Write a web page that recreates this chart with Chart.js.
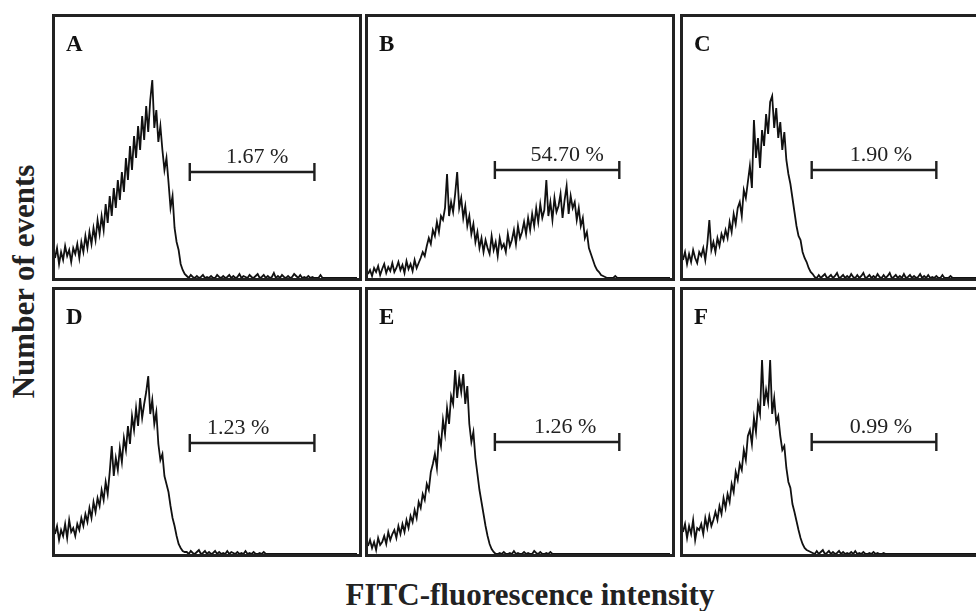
<!DOCTYPE html>
<html>
<head>
<meta charset="utf-8">
<script src="https://cdn.jsdelivr.net/npm/chart.js@4"></script>
<style>
  body { margin: 0; width: 976px; height: 611px; overflow: hidden; background: #fff; position: relative; font-family: "Liberation Serif", "Times New Roman", serif; color: #222; }
  .panel { position: absolute; box-sizing: border-box; border: 3px solid #222; width: 310px; }
  .panel canvas { display: block; }
  #xtitle { position: absolute; left: 280px; width: 500px; top: 579px; text-align: center; font: bold 31px "Liberation Serif", serif; line-height: 31px; }
  #ytitle { position: absolute; left: -127px; top: 266px; width: 300px; height: 31px; text-align: center; font: bold 31px "Liberation Serif", serif; line-height: 31px; transform: rotate(-90deg); }
</style>
</head>
<body>
<div id="xtitle">FITC-fluorescence intensity</div>
<div id="ytitle">Number of events</div>

<script>
// histogram counts per channel bin (150 bins per panel)
const histA = [
  20, 30, 14, 26, 18, 32, 22, 28, 16, 30, 24, 34, 20,
  36, 26, 42, 30, 46, 34, 50, 38, 58, 44,
  62, 48, 74, 55, 82, 62, 90, 70, 98, 78,
  106, 86, 120, 98, 132, 108, 142, 120,
  152, 128, 162, 138, 172, 146, 178,
  198,
  150, 168, 136, 152,
  128, 108, 120,
  96, 70, 82,
  50, 36, 28,
  14, 8, 4,
  2, 0, 3, 1, 0, 2, 0, 1, 3, 0, 1, 0, 2, 0, 0, 3, 1, 0, 2, 0,
  1, 3, 0, 2, 0, 1, 4, 0, 2, 1, 0, 3, 1, 0, 2, 4, 0, 1, 3, 0,
  2, 0, 1, 5, 0, 2, 0, 3, 1, 0, 2, 0, 1, 4, 2, 0, 3, 0, 1, 0,
  2, 0, 1, 0, 0, 0, 3, 0, 0, 0, 0, 0, 0, 0, 0, 0, 0, 0, 0, 0,
  0, 0, 0, 0, 0
];
const histB = [
  4, 8, 2, 10, 6, 12, 3, 9, 14, 5, 11, 7, 15, 6, 10, 16, 8, 13, 5, 17, 9, 14, 7, 18, 10, 15,
  20, 26, 22, 32,
  40, 34, 48, 42, 56, 46, 62,
  58, 70, 104, 62, 76, 66, 84, 106,
  70, 80, 60, 72, 52,
  62, 44, 54, 36, 46, 30,
  40, 26, 38, 30, 24, 42, 28, 36, 22, 40, 30, 34, 26, 44, 32,
  38, 48, 34, 52, 40, 46, 56, 44,
  60, 48, 64, 52, 70, 56, 74, 60, 68, 98,
  62, 76, 58, 80, 66, 72, 84, 60, 78, 92,
  64, 82, 70, 76, 58, 70,
  52, 60, 40, 46, 30, 24, 18,
  12, 8, 6, 3, 2, 1, 0,
  0, 0, 0, 2, 0, 0, 0, 0, 0, 0, 0, 0, 0, 0, 0, 0, 0, 0, 0, 0,
  0, 0, 0, 0, 0, 0, 0, 0, 0, 0, 0
];
const histC = [
  18, 26, 14, 24, 16, 28, 20, 15, 26,
  22, 30, 18, 34, 58,
  28, 36, 26, 40, 32, 44, 38,
  48, 40, 56, 46, 64, 54, 70,
  76, 62, 88, 80, 96,
  112, 90, 158,
  120, 140, 110, 148,
  132, 164, 144, 176,
  182, 150, 170, 140,
  156, 128, 146,
  118, 104, 94,
  80, 66, 52, 42,
  38, 26, 20, 16,
  10, 6, 4,
  1, 0, 3, 0, 2, 4, 0, 1, 3, 0, 2, 5, 0, 1, 3, 0, 2, 0, 4, 1,
  0, 3, 0, 2, 5, 0, 1, 3, 0, 2, 0, 4, 1, 0, 3, 0, 2, 5, 0, 1,
  3, 0, 2, 0, 4, 0, 1, 3, 0, 2, 0, 1, 4, 0, 2, 0, 3, 0, 1, 0,
  2, 0, 0, 3, 0, 0, 0, 2, 0, 0, 0, 0, 0, 0, 0, 0, 0, 0, 0, 0,
  0, 0, 0, 0, 0
];
const histD = [
  20, 28, 14, 24, 18, 30, 16, 34, 22,
  26, 18, 30, 24, 36, 28,
  40, 32, 46, 36, 52, 42, 56,
  48, 64, 54, 72, 60, 82, 108,
  78, 96, 84, 106, 92, 116,
  104, 128, 110, 138, 124,
  146, 128, 156, 136, 150,
  162, 178, 140, 154,
  130, 142, 110, 94,
  100, 78, 70, 62,
  48, 36, 28,
  18, 10, 6,
  3, 2,
  2, 0, 3, 1, 0, 2, 4, 0, 1, 3, 0, 2, 0, 1, 3, 0, 2, 0, 1, 0,
  3, 0, 2, 1, 0, 2, 0, 1, 0, 3, 0, 1, 0, 2, 0, 0, 1, 0, 2, 0,
  0, 0, 0, 0, 0, 0, 0, 0, 0, 0, 0, 0, 0, 0, 0, 0, 0, 0, 0, 0,
  0, 0, 0, 0, 0, 0, 0, 0, 0, 0, 0, 0, 0, 0, 0, 0, 0, 0, 0, 0,
  0, 0, 0, 0, 0
];
const histE = [
  8, 14, 6, 12, 4, 16, 9, 12,
  18, 10, 22, 14, 20,
  24, 16, 28, 20, 30, 22, 34, 26, 38,
  32, 44, 36, 52, 46, 60,
  54, 70, 64, 82, 90,
  100, 86, 118, 108, 134,
  120, 146, 130, 158, 150,
  184, 156, 176, 162, 180,
  150, 168, 130,
  112, 122, 96, 80,
  64, 52, 40,
  28, 18, 10,
  5, 2, 0,
  0, 1, 0, 2, 0, 0, 1, 0, 3, 0, 1, 0, 0, 2, 0, 1, 0, 0, 3, 1,
  0, 2, 0, 0, 1, 0, 2, 0, 0, 0, 0, 0, 0, 0, 0, 0, 0, 0, 0, 0,
  0, 0, 0, 0, 0, 0, 0, 0, 0, 0, 0, 0, 0, 0, 0, 0, 0, 0, 0, 0,
  0, 0, 0, 0, 0, 0, 0, 0, 0, 0, 0, 0, 0, 0, 0, 0, 0, 0, 0, 0,
  0, 0, 0, 0, 0, 0
];
const histF = [
  22, 30, 16, 28, 20, 34, 14, 26, 24,
  30, 20, 36, 26, 38, 28, 34,
  42, 34, 48, 40, 56, 46, 60,
  52, 70, 62, 82, 74, 90,
  84, 104, 94, 118, 124,
  110, 136, 122, 150, 140,
  194, 148, 164, 152, 194,
  140, 156, 132,
  138, 118, 104,
  108, 86, 72, 66,
  50, 42, 33,
  24, 16, 10,
  6, 4, 3, 2,
  1, 0, 3, 0, 2, 4, 0, 1, 3, 0, 2, 0, 1, 3, 0, 2, 0, 1, 0, 2,
  0, 3, 0, 1, 0, 2, 0, 0, 1, 0, 2, 0, 1, 0, 0, 1, 0, 0, 0, 0,
  0, 0, 0, 0, 0, 0, 0, 0, 0, 0, 0, 0, 0, 0, 0, 0, 0, 0, 0, 0,
  0, 0, 0, 0, 0, 0, 0, 0, 0, 0, 0, 0, 0, 0, 0, 0, 0, 0, 0, 0,
  0, 0, 0, 0, 0, 0
];

const panelNames = ['A', 'B', 'C', 'D', 'E', 'F'];
const gateText = ['1.67 %', '54.70 %', '1.90 %', '1.23 %', '1.26 %', '0.99 %'];
// marker gate in channel bins and the count level it is drawn at
const gateLo = [66.5, 62.6, 63.5, 66.5, 62.6, 63.5];
const gateHi = [128, 124, 125, 128, 124, 125];
const gateLevel = [106, 108, 108, 111, 112, 112];

const histograms = [histA, histB, histC, histD, histE, histF];

// layout
const colLeft = [52, 365, 680];
const rowTop = [14, 287];
const rowHeight = [267, 270];
const labelShift = [5, 10, 7, -14, 8, 7];

const gatePlugin = {
  id: 'gate',
  afterDatasetsDraw(chart, args, opts) {
    const { ctx } = chart;
    const x = chart.scales.x, y = chart.scales.y;
    const x1 = x.getPixelForValue(opts.lo);
    const x2 = x.getPixelForValue(opts.hi);
    const yy = y.getPixelForValue(opts.level);
    ctx.save();
    ctx.strokeStyle = '#1e1e1e';
    ctx.lineWidth = 2.4;
    ctx.beginPath();
    ctx.moveTo(x1, yy); ctx.lineTo(x2, yy);
    ctx.moveTo(x1, yy - 9); ctx.lineTo(x1, yy + 9);
    ctx.moveTo(x2, yy - 9); ctx.lineTo(x2, yy + 9);
    ctx.stroke();
    ctx.fillStyle = '#222';
    ctx.textAlign = 'center';
    ctx.textBaseline = 'alphabetic';
    ctx.font = '22px "Liberation Serif"';
    ctx.fillText(opts.text, (x1 + x2) / 2 + opts.dx, yy - 9);
    ctx.textAlign = 'left';
    ctx.fillStyle = '#111';
    ctx.font = 'bold 23px "Liberation Serif"';
    ctx.fillText(opts.letter, 11, 34);
    ctx.restore();
  }
};

histograms.forEach((hist, i) => {
  const row = Math.floor(i / 3), col = i % 3;
  const panel = document.createElement('div');
  panel.className = 'panel';
  panel.style.left = colLeft[col] + 'px';
  panel.style.top = rowTop[row] + 'px';
  panel.style.height = rowHeight[row] + 'px';
  const canvas = document.createElement('canvas');
  canvas.width = 304;
  canvas.height = rowHeight[row] - 6;
  panel.appendChild(canvas);
  document.body.appendChild(panel);

  new Chart(canvas.getContext('2d'), {
    type: 'line',
    data: {
      datasets: [{
        data: hist.map((v, k) => ({ x: k, y: v })),
        borderColor: '#111',
        borderWidth: 1.8,
        pointRadius: 0,
        tension: 0,
        fill: false
      }]
    },
    options: {
      responsive: false,
      animation: false,
      events: [],
      layout: { padding: 0 },
      scales: {
        x: { type: 'linear', min: 0, max: 150, display: false },
        y: { min: 0, max: row === 0 ? 261 : 264, display: false }
      },
      plugins: {
        legend: { display: false },
        tooltip: { enabled: false },
        gate: {
          lo: gateLo[i], hi: gateHi[i], level: gateLevel[i],
          text: gateText[i], dx: labelShift[i], letter: panelNames[i]
        }
      }
    },
    plugins: [gatePlugin]
  });
});
</script>
</body>
</html>
